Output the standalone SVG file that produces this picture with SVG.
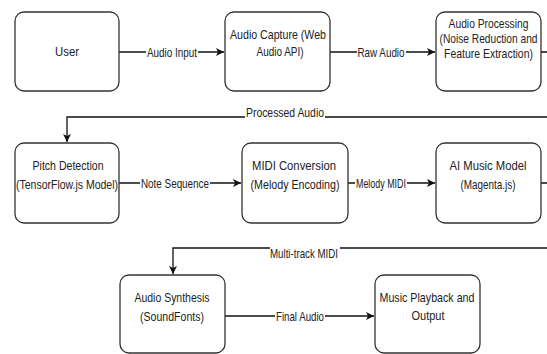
<svg xmlns="http://www.w3.org/2000/svg" width="547" height="354" viewBox="0 0 547 354">
<style>
.box{fill:#fff;stroke:#333;stroke-width:1.3}
.t{font-family:"Liberation Sans",Arial,sans-serif;font-size:13px;fill:#222;text-anchor:middle}
.c{fill:none;stroke:#111;stroke-width:1.3}
.bg{fill:#fff}
</style>
<defs>
<marker id="ah" markerWidth="10" markerHeight="10" refX="9" refY="5" orient="auto" markerUnits="userSpaceOnUse">
<path d="M1,1 L9,5 L1,9 L3,5 Z" fill="#111"/>
</marker>
</defs>
<rect width="547" height="354" fill="#fff"/>
<g id="connectors">
<path class="c" d="M119,52 H224" marker-end="url(#ah)"/>
<path class="c" d="M330,52 H435" marker-end="url(#ah)"/>
<path class="c" d="M541,52 H560 V117 H67 V142" marker-end="url(#ah)"/>
<path class="c" d="M119,183 H241" marker-end="url(#ah)"/>
<path class="c" d="M348,183 H435" marker-end="url(#ah)"/>
<path class="c" d="M541,183 H560 V248 H173 V274" marker-end="url(#ah)"/>
<path class="c" d="M225,316 H374" marker-end="url(#ah)"/>
<g id="labels">
<rect class="bg" x="146" y="45" width="52" height="14"/>
<text class="t" x="172" y="56.5" textLength="50" lengthAdjust="spacingAndGlyphs">Audio Input</text>
<rect class="bg" x="357" y="45" width="49" height="14"/>
<text class="t" x="381" y="56.5" textLength="47" lengthAdjust="spacingAndGlyphs">Raw Audio</text>
<rect class="bg" x="245" y="106" width="80" height="12"/>
<text class="t" x="285" y="117" textLength="78" lengthAdjust="spacingAndGlyphs">Processed Audio</text>
<rect class="bg" x="140" y="176" width="70" height="14"/>
<text class="t" x="175" y="187.5" textLength="68" lengthAdjust="spacingAndGlyphs">Note Sequence</text>
<rect class="bg" x="355" y="176" width="52" height="14"/>
<text class="t" x="381" y="187.5" textLength="50" lengthAdjust="spacingAndGlyphs">Melody MIDI</text>
<rect class="bg" x="270" y="246" width="70" height="13"/>
<text class="t" x="304" y="257.5" textLength="68" lengthAdjust="spacingAndGlyphs">Multi-track MIDI</text>
<rect class="bg" x="275" y="309" width="50" height="14"/>
<text class="t" x="300" y="320.5" textLength="48" lengthAdjust="spacingAndGlyphs">Final Audio</text>
</g>
</g>
<g id="user">
<rect class="box" x="15" y="12" width="104" height="79" rx="9"/>
<text class="t" x="67" y="55.5" textLength="24" lengthAdjust="spacingAndGlyphs">User</text>
</g>
<g id="audio-capture">
<rect class="box" x="225" y="12" width="105" height="79" rx="9"/>
<text class="t" x="278" y="38.5" textLength="96" lengthAdjust="spacingAndGlyphs">Audio Capture (Web</text>
<text class="t" x="280" y="55.5" textLength="47" lengthAdjust="spacingAndGlyphs">Audio API)</text>
</g>
<g id="audio-processing">
<rect class="box" x="436" y="12" width="105" height="79" rx="9"/>
<g transform="translate(488.5,0) scale(0.79,1)">
<text class="t" x="0" y="28.5" textLength="101" lengthAdjust="spacingAndGlyphs">Audio Processing</text>
<text class="t" x="0" y="43.5" textLength="124" lengthAdjust="spacingAndGlyphs">(Noise Reduction and</text>
<text class="t" x="0" y="58.5" textLength="112.6" lengthAdjust="spacingAndGlyphs">Feature Extraction)</text>
</g>
</g>
<g id="pitch-detection">
<rect class="box" x="15" y="143" width="104" height="80" rx="9"/>
<text class="t" x="68" y="169.5" textLength="71" lengthAdjust="spacingAndGlyphs">Pitch Detection</text>
<text class="t" x="67" y="188.5" textLength="102" lengthAdjust="spacingAndGlyphs">(TensorFlow.js Model)</text>
</g>
<g id="midi-conversion">
<rect class="box" x="242" y="143" width="106" height="80" rx="9"/>
<text class="t" x="294" y="169.5" textLength="84" lengthAdjust="spacingAndGlyphs">MIDI Conversion</text>
<text class="t" x="295" y="188.5" textLength="89" lengthAdjust="spacingAndGlyphs">(Melody Encoding)</text>
</g>
<g id="ai-music-model">
<rect class="box" x="436" y="143" width="105" height="80" rx="9"/>
<text class="t" x="488" y="169.5" textLength="77" lengthAdjust="spacingAndGlyphs">AI Music Model</text>
<text class="t" x="488" y="188.5" textLength="55" lengthAdjust="spacingAndGlyphs">(Magenta.js)</text>
</g>
<g id="audio-synthesis">
<rect class="box" x="120" y="275" width="105" height="78" rx="9"/>
<text class="t" x="172" y="301.5" textLength="75" lengthAdjust="spacingAndGlyphs">Audio Synthesis</text>
<text class="t" x="172" y="320.5" textLength="64" lengthAdjust="spacingAndGlyphs">(SoundFonts)</text>
</g>
<g id="music-playback">
<rect class="box" x="375" y="275" width="105" height="78" rx="9"/>
<text class="t" x="427" y="301.5" textLength="95" lengthAdjust="spacingAndGlyphs">Music Playback and</text>
<text class="t" x="428" y="319.5" textLength="33" lengthAdjust="spacingAndGlyphs">Output</text>
</g>
</svg>
